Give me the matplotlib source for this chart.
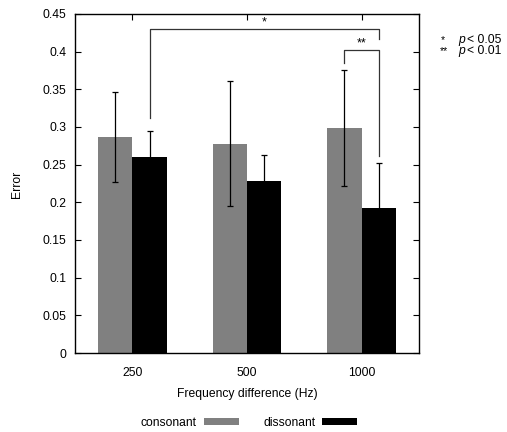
import numpy as np
import matplotlib
matplotlib.use('Agg')
import matplotlib.pyplot as plt

plt.rcParams['font.family'] = ['Liberation Sans', 'DejaVu Sans']
plt.rcParams['font.size'] = 8.7

# data
freqs = ['250', '500', '1000']
consonant = [0.287, 0.278, 0.299]
consonant_err = [0.060, 0.083, 0.077]
dissonant = [0.260, 0.228, 0.192]
dissonant_err = [0.035, 0.035, 0.060]

W, H = 507, 432
fig = plt.figure(figsize=(W / 100, H / 100), dpi=100)
ax = fig.add_axes([75 / W, 1 - 353 / H, 344 / W, 339 / H])

x = np.arange(len(freqs))
bw = 0.3
b1 = ax.bar(x - bw / 2, consonant, bw, color='#808080', label='consonant', zorder=2)
b2 = ax.bar(x + bw / 2, dissonant, bw, color='black', label='dissonant', zorder=2)
ax.errorbar(x - bw / 2, consonant, yerr=consonant_err, fmt='none', ecolor='black',
            elinewidth=0.9, capsize=2.5, capthick=0.9, zorder=3)
ax.errorbar(x + bw / 2, dissonant, yerr=dissonant_err, fmt='none', ecolor='black',
            elinewidth=0.9, capsize=2.5, capthick=0.9, zorder=3)

# significance brackets
lc = '#333333'
ax.plot([0.15, 0.15, 2.15, 2.15], [0.312, 0.430, 0.430, 0.417], color=lc, lw=0.9, zorder=4)
ax.text(1.15, 0.431, '*', ha='center', va='bottom', fontsize=9)
ax.plot([1.85, 1.85, 2.15, 2.15], [0.385, 0.402, 0.402, 0.262], color=lc, lw=0.9, zorder=4)
ax.text(2.0, 0.403, '**', ha='center', va='bottom', fontsize=9)

ax.set_xlim(-0.5, 2.5)
ax.set_ylim(0, 0.45)
ax.set_xticks(x)
ax.set_xticklabels(freqs)
ax.set_yticks(np.arange(0, 0.451, 0.05))
ax.set_yticklabels(['0', '0.05', '0.1', '0.15', '0.2', '0.25', '0.3', '0.35', '0.4', '0.45'])
ax.tick_params(axis='y', direction='in', left=True, right=True, length=4, width=0.8, pad=6)
ax.tick_params(axis='x', direction='in', bottom=False, top=True, length=4, width=0.8, pad=10)
for s in ax.spines.values():
    s.set_linewidth(1.0)

fig.text(17 / W, 1 - 184 / H, 'Error', rotation=90, ha='center', va='center')
fig.text(247 / W, 1 - 394 / H, 'Frequency difference (Hz)', ha='center', va='center')

fig.legend(handles=[b1, b2], loc='center', bbox_to_anchor=(249 / W, 1 - 423 / H),
           ncol=2, frameon=False, markerfirst=False, handlelength=2.9, handleheight=0.55,
           handletextpad=0.6, columnspacing=2.0, fontsize=8.7)

# p-value key
fig.text(441 / W, 1 - 40 / H, '*', ha='left', va='center', fontsize=7.5)
fig.text(440 / W, 1 - 51 / H, '**', ha='left', va='center', fontsize=7.5)
fig.text(458 / W, 1 - 40 / H, 'p', style='italic', ha='left', va='center')
fig.text(467 / W, 1 - 40 / H, '< 0.05', ha='left', va='center')
fig.text(458 / W, 1 - 51 / H, 'p', style='italic', ha='left', va='center')
fig.text(467 / W, 1 - 51 / H, '< 0.01', ha='left', va='center')

fig.savefig('out.png', dpi=100)
